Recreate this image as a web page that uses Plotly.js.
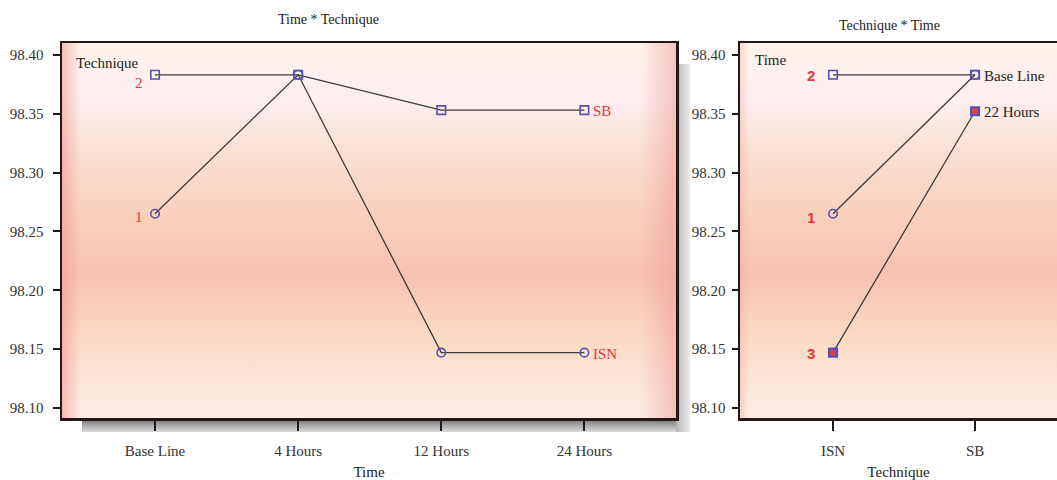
<!DOCTYPE html>
<html>
<head>
<meta charset="utf-8">
<script src="https://cdn.plot.ly/plotly-3.0.1.min.js"></script>
<style>html,body{margin:0;padding:0;background:#fff;}#chart{width:1057px;height:480px;}</style>
</head>
<body>
<div id="chart"></div>
<script>
// ---- data ----
const timeLabels = ["Base Line", "4 Hours", "12 Hours", "24 Hours"];
const isnByTime = [98.265, 98.383, 98.147, 98.147];   // Technique 1 (ISN)
const sbByTime  = [98.383, 98.383, 98.353, 98.353];   // Technique 2 (SB)
const leftSeriesNames = ["ISN", "SB"];
const leftStartLabels = ["1", "2"];

const techLabels = ["ISN", "SB"];
const timeBase = [98.383, 98.383];   // label 2 / Base Line
const time1    = [98.265, 98.383];   // label 1
const time3    = [98.147, 98.352];   // label 3 / 22 Hours
const rightStartLabels = ["2", "1", "3"];
const rightEndLabels = ["Base Line", "22 Hours"];

const leftTitle = "Time * Technique";
const rightTitle = "Technique * Time";
const yTicks = [98.10, 98.15, 98.20, 98.25, 98.30, 98.35, 98.40];

// ---- styling ----
const W = 1057, H = 480;
const serif = "Liberation Serif, Times New Roman, serif";
const sans = "Liberation Sans, Arial, sans-serif";
const lineCol = "#3d3a3a";
const mkCol = "#5552ad";
const redCol = "#e8363a";
const axCol = "#231818";
const yRange = [98.0915, 98.41];
const yDom = [1 - 418 / H, 1 - 43 / H];
const leftLabelShift = [-3, -8];
const rightLabelShift = [-1, -4, -1];

function svgURI(s) { return "data:image/svg+xml;charset=utf-8," + encodeURIComponent(s); }

const vStops = `
<stop offset='0' stop-color='#fdf3e8'/>
<stop offset='0.06' stop-color='#fdf1ee'/>
<stop offset='0.15' stop-color='#fdeef0'/>
<stop offset='0.30' stop-color='#fbdfd0'/>
<stop offset='0.45' stop-color='#f9d1bd'/>
<stop offset='0.62' stop-color='#f7c3b1'/>
<stop offset='0.80' stop-color='#fcdcc6'/>
<stop offset='0.94' stop-color='#fde8df'/>
<stop offset='1' stop-color='#fdebe6'/>`;

const bgLeft = svgURI(`<svg xmlns='http://www.w3.org/2000/svg' width='100' height='100' viewBox='0 0 100 100' preserveAspectRatio='none'>
<defs><linearGradient id='v' x1='0' y1='0' x2='0' y2='1'>${vStops}</linearGradient>
<linearGradient id='h' x1='0' y1='0' x2='1' y2='0'>
<stop offset='0' stop-color='#ee9a94' stop-opacity='0.6'/>
<stop offset='0.03' stop-color='#ee9a94' stop-opacity='0'/>
<stop offset='0.94' stop-color='#ec9a96' stop-opacity='0'/>
<stop offset='1' stop-color='#ea9894' stop-opacity='0.5'/>
</linearGradient></defs>
<rect width='100' height='100' fill='url(#v)'/><rect width='100' height='100' fill='url(#h)'/></svg>`);

const bgRight = svgURI(`<svg xmlns='http://www.w3.org/2000/svg' width='100' height='100' viewBox='0 0 100 100' preserveAspectRatio='none'>
<defs><linearGradient id='v' x1='0' y1='0' x2='0' y2='1'>${vStops}</linearGradient>
<linearGradient id='h' x1='0' y1='0' x2='1' y2='0'>
<stop offset='0' stop-color='#ee9a94' stop-opacity='0.3'/>
<stop offset='0.03' stop-color='#ee9a94' stop-opacity='0'/>
</linearGradient></defs>
<rect width='100' height='100' fill='url(#v)'/><rect width='100' height='100' fill='url(#h)'/></svg>`);

const shadowBottom = svgURI(`<svg xmlns='http://www.w3.org/2000/svg' width='100' height='100' viewBox='0 0 100 100' preserveAspectRatio='none'>
<defs><linearGradient id='g' x1='0' y1='0' x2='0' y2='1'>
<stop offset='0' stop-color='#6e6a6a'/><stop offset='1' stop-color='#dcdcdc'/></linearGradient></defs>
<rect width='100' height='100' fill='url(#g)'/></svg>`);
const shadowRight = svgURI(`<svg xmlns='http://www.w3.org/2000/svg' width='100' height='100' viewBox='0 0 100 100' preserveAspectRatio='none'>
<defs><linearGradient id='g' x1='0' y1='0' x2='1' y2='0'>
<stop offset='0' stop-color='#b8b4b4'/><stop offset='1' stop-color='#ececec'/></linearGradient></defs>
<rect width='100' height='100' fill='url(#g)'/></svg>`);

function lineTrace(x, y, sym, xa, ya, name, fill) {
  return {
    type: "scatter", mode: "lines+markers", x: x, y: y, xaxis: xa, yaxis: ya, name: name,
    line: { color: lineCol, width: 1.3 },
    marker: { symbol: sym, size: 8.5, color: fill || mkCol, line: { color: mkCol, width: 1.6 } },
    hoverinfo: "x+y+name"
  };
}

const traces = [
  lineTrace(timeLabels, isnByTime, "circle-open", "x", "y", leftSeriesNames[0]),
  lineTrace(timeLabels, sbByTime, "square-open", "x", "y", leftSeriesNames[1]),
  lineTrace(techLabels, timeBase, "square-open", "x2", "y2", rightEndLabels[0]),
  lineTrace(techLabels, time1, "circle-open", "x2", "y2", rightStartLabels[1]),
  lineTrace(techLabels, time3, "square", "x2", "y2", rightEndLabels[1], "#6a4fb4"),
  { type: "scatter", mode: "markers", x: techLabels, y: time3, xaxis: "x2", yaxis: "y2",
    marker: { symbol: "circle", size: 6, color: "#e0403a" }, hoverinfo: "skip" }
];

const ann = [];
// Titles
ann.push({ text: leftTitle, xref: "paper", yref: "paper", x: 328 / W, y: 1 - 20 / H, xanchor: "center", yanchor: "middle",
  showarrow: false, font: { family: serif, size: 14, color: "#222" } });
ann.push({ text: rightTitle, xref: "paper", yref: "paper", x: 889 / W, y: 1 - 25 / H, xanchor: "center", yanchor: "middle",
  showarrow: false, font: { family: serif, size: 14, color: "#222" } });
// legend titles
ann.push({ text: "Technique", xref: "x domain", yref: "y domain", x: 0.02, y: (418 - 63) / 375, xanchor: "left", yanchor: "middle",
  showarrow: false, font: { family: serif, size: 15, color: "#222" } });
ann.push({ text: "Time", xref: "x2 domain", yref: "y2 domain", x: 0.04, y: (418 - 60) / 375, xanchor: "left", yanchor: "middle",
  showarrow: false, font: { family: serif, size: 15, color: "#222" } });
// left start / end labels
[isnByTime, sbByTime].forEach((s, i) => {
  ann.push({ text: leftStartLabels[i], xref: "x", yref: "y", x: timeLabels[0], y: s[0], xanchor: "right", yanchor: "middle",
    xshift: -10, yshift: leftLabelShift[i], showarrow: false, font: { family: serif, size: 15, color: redCol } });
  ann.push({ text: leftSeriesNames[i], xref: "x", yref: "y", x: timeLabels[timeLabels.length - 1], y: s[s.length - 1],
    xanchor: "left", yanchor: "middle", xshift: 7, yshift: -1, showarrow: false, font: { family: serif, size: 15, color: redCol } });
});
// right start labels
[timeBase, time1, time3].forEach((s, i) => {
  ann.push({ text: "<b>" + rightStartLabels[i] + "</b>", xref: "x2", yref: "y2", x: techLabels[0], y: s[0], xanchor: "right", yanchor: "middle",
    xshift: -16, yshift: rightLabelShift[i], showarrow: false, font: { family: sans, size: 15, color: redCol } });
});
[timeBase, time3].forEach((s, i) => {
  ann.push({ text: rightEndLabels[i], xref: "x2", yref: "y2", x: techLabels[1], y: s[1], xanchor: "left", yanchor: "middle",
    xshift: 7, yshift: -1, showarrow: false, font: { family: serif, size: 15, color: "#222" } });
});

const axBase = {
  showline: true, linecolor: axCol, linewidth: 2.5, showgrid: false, zeroline: false,
  ticks: "outside", tickcolor: axCol, tickwidth: 2,
  tickfont: { family: serif, size: 15, color: "#333" }
};

const layout = {
  width: W, height: H,
  margin: { l: 0, r: 0, t: 0, b: 0, pad: 0 },
  paper_bgcolor: "#ffffff",
  plot_bgcolor: "rgba(0,0,0,0)",
  showlegend: false,
  font: { family: serif, color: "#222" },
  xaxis: Object.assign({}, axBase, {
    domain: [62 / W, 676 / W], anchor: "y", type: "category", range: [-0.65, 3.64],
    mirror: true, ticklen: 10, ticklabelstandoff: 7,
    title: { text: "Time", standoff: 9, font: { family: serif, size: 15, color: "#222" } }
  }),
  yaxis: Object.assign({}, axBase, {
    domain: yDom, anchor: "x", range: yRange, tickvals: yTicks, tickformat: ".2f",
    mirror: true, ticklen: 7, ticklabelstandoff: 6
  }),
  yaxis3: {
    overlaying: "y", side: "right", anchor: "x", range: yRange, tickvals: yTicks,
    showticklabels: false, ticks: "inside", ticklen: 6, tickwidth: 2, tickcolor: axCol,
    showline: false, showgrid: false, zeroline: false
  },
  xaxis2: Object.assign({}, axBase, {
    domain: [740 / W, 1], anchor: "y2", type: "category", range: [-0.655, 1.577],
    mirror: true, ticklen: 10, ticklabelstandoff: 7,
    title: { text: "Technique", standoff: 9, font: { family: serif, size: 15, color: "#222" } }
  }),
  yaxis2: Object.assign({}, axBase, {
    domain: yDom, anchor: "x2", range: yRange, tickvals: yTicks, tickformat: ".2f",
    mirror: true, ticklen: 6, ticklabelstandoff: 3
  }),
  images: [
    { source: bgLeft, xref: "x domain", yref: "y domain", x: 0, y: 1, sizex: 1, sizey: 1,
      xanchor: "left", yanchor: "top", sizing: "stretch", layer: "below" },
    { source: bgRight, xref: "x2 domain", yref: "y2 domain", x: 0, y: 1, sizex: 1, sizey: 1,
      xanchor: "left", yanchor: "top", sizing: "stretch", layer: "below" },
    { source: shadowBottom, xref: "paper", yref: "paper", x: 82 / W, y: 1 - 418 / H, sizex: (690 - 82) / W, sizey: 14 / H,
      xanchor: "left", yanchor: "top", sizing: "stretch", layer: "below" },
    { source: shadowRight, xref: "paper", yref: "paper", x: 676 / W, y: 1 - 64 / H, sizex: 14 / W, sizey: (432 - 64) / H,
      xanchor: "left", yanchor: "top", sizing: "stretch", layer: "below" }
  ],
  annotations: ann
};

Plotly.newPlot("chart", traces, layout, { displayModeBar: false, staticPlot: true });
</script>
</body>
</html>
